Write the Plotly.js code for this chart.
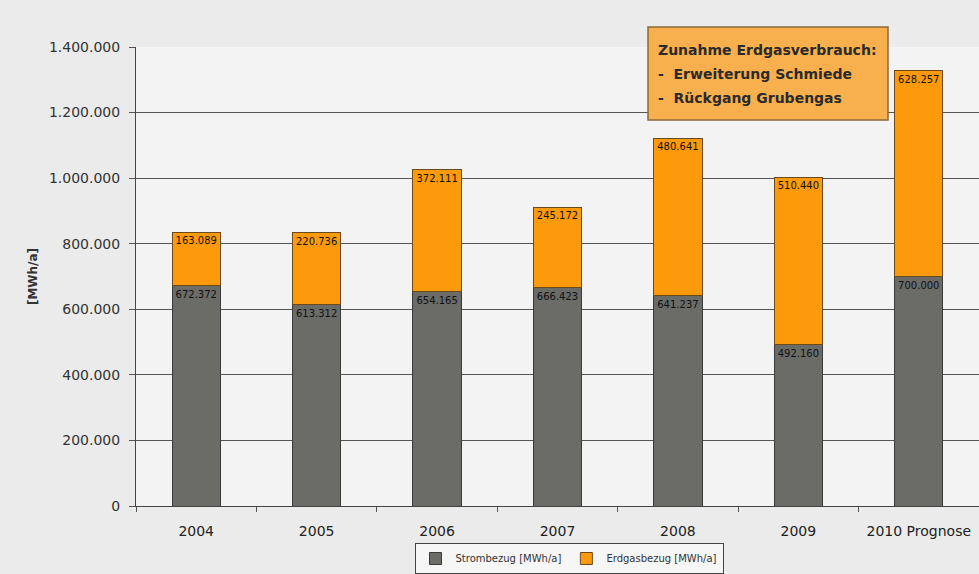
<!DOCTYPE html>
<html>
<head>
<meta charset="utf-8">
<script src="https://cdn.plot.ly/plotly-3.0.1.min.js"></script>
<style>html,body{margin:0;padding:0;background:#ebebeb;}#chart{width:979px;height:574px;}</style>
</head>
<body>
<div id="chart"></div>
<script>
const categories = ["2004", "2005", "2006", "2007", "2008", "2009", "2010 Prognose"];
const strombezug = [672372, 613312, 654165, 666423, 641237, 492160, 700000];
const erdgasbezug = [163089, 220736, 372111, 245172, 480641, 510440, 628257];
const seriesNames = ["Strombezug [MWh/a]", "Erdgasbezug [MWh/a]"];
const yTicks = [0, 200000, 400000, 600000, 800000, 1000000, 1200000, 1400000];
const boxLines = ["Zunahme Erdgasverbrauch:", "-  Erweiterung Schmiede", "-  Rückgang Grubengas"];

const font = "DejaVu Sans, Verdana, sans-serif";
const common = {
  type: "bar",
  x: categories,
  width: 0.4,
  textposition: "inside",
  insidetextanchor: "end",
  texttemplate: "%{y:,d}",
  textfont: {family: font, size: 10, color: "#111"},
  textangle: 0,
  constraintext: "none",
  hoverinfo: "skip"
};
const data = [
  Object.assign({}, common, {y: strombezug, name: seriesNames[0],
    marker: {color: "#6b6b68", line: {color: "#3a3a3a", width: 1}}}),
  Object.assign({}, common, {y: erdgasbezug, name: seriesNames[1],
    marker: {color: "#fd9a0c", line: {color: "#6a4a1a", width: 1}}})
];

const annotations = boxLines.map((t, i) => ({
  xref: "paper", yref: "paper",
  x: (656 - 136) / 843, y: (506 - (50 + 24 * i)) / 459,
  xanchor: "left", yanchor: "middle",
  text: "<b>" + t + "</b>", showarrow: false,
  font: {family: font, size: 14, color: "#2a2a2a"}
}));

const layout = {
  width: 979, height: 574,
  margin: {l: 136, r: 0, t: 47, b: 68},
  paper_bgcolor: "#ebebeb",
  plot_bgcolor: "#f3f3f3",
  separators: ",.",
  barmode: "stack",
  showlegend: true,
  legend: {
    orientation: "h", xref: "paper", yref: "paper",
    traceorder: "normal",
    x: (569 - 136) / 843, xanchor: "center",
    y: (506 - 574) / 459, yanchor: "bottom",
    bgcolor: "#f6f6f6", bordercolor: "#444", borderwidth: 1,
    font: {family: font, size: 10, color: "#333"},
    itemwidth: 30, tracegroupgap: 0
  },
  xaxis: {
    type: "category",
    tickson: "boundaries",
    ticks: "outside", ticklen: 5, tickcolor: "#555",
    ticklabelstandoff: 12,
    showline: true, linecolor: "#444", linewidth: 1,
    showgrid: false,
    tickfont: {family: font, size: 14, color: "#222"},
    range: [-0.5, 6.5]
  },
  yaxis: {
    range: [0, 1400000],
    tickvals: yTicks,
    tickformat: ",d",
    ticks: "outside", ticklen: 6, tickcolor: "#555",
    ticklabelstandoff: 6,
    showline: true, linecolor: "#444", linewidth: 1,
    showgrid: true, gridcolor: "#555", gridwidth: 1,
    zeroline: false,
    tickfont: {family: font, size: 14, color: "#333"},
    title: {text: "<b>[MWh/a]</b>", font: {family: font, size: 12, color: "#333"}, standoff: 8}
  },
  shapes: [{
    type: "rect", xref: "paper", yref: "paper",
    x0: (648 - 136) / 843, x1: (888 - 136) / 843,
    y0: (506 - 120) / 459, y1: (506 - 27) / 459,
    fillcolor: "#f8b04e", line: {color: "#8a6a3a", width: 1.5}, layer: "above"
  }],
  annotations: annotations
};

Plotly.newPlot("chart", data, layout, {displayModeBar: false, staticPlot: true});
</script>
</body>
</html>
